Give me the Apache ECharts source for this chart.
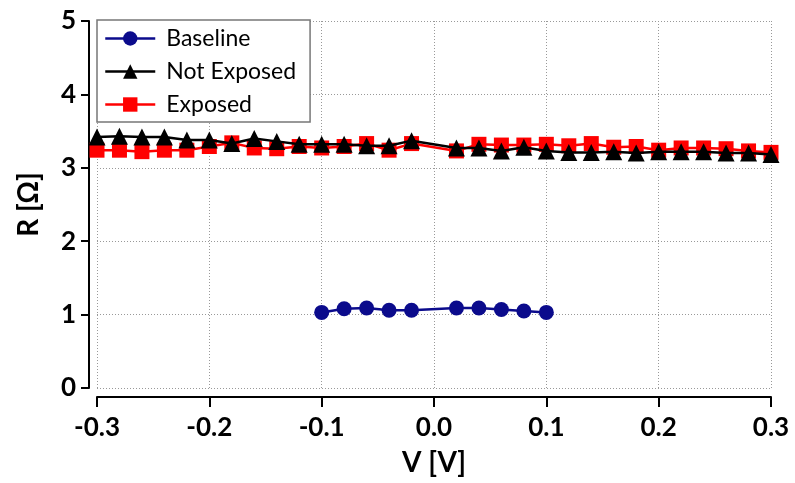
<!DOCTYPE html>
<html>
<head>
<meta charset="utf-8">
<script src="https://cdn.jsdelivr.net/npm/echarts@6/dist/echarts.min.js"></script>
<style>html,body{margin:0;padding:0;background:#fff}#c{width:795px;height:483px}</style>
</head>
<body>
<div id="c"></div>
<script>
var baselineV = [-0.10, -0.08, -0.06, -0.04, -0.02, 0.02, 0.04, 0.06, 0.08, 0.10];
var baselineR = [1.03, 1.08, 1.09, 1.06, 1.06, 1.09, 1.09, 1.07, 1.05, 1.03];

var sweepV = [-0.30, -0.28, -0.26, -0.24, -0.22, -0.20, -0.18, -0.16, -0.14, -0.12, -0.10, -0.08, -0.06, -0.04, -0.02,
              0.02, 0.04, 0.06, 0.08, 0.10, 0.12, 0.14, 0.16, 0.18, 0.20, 0.22, 0.24, 0.26, 0.28, 0.30];
var notExposedR = [3.42, 3.43, 3.42, 3.42, 3.38, 3.38, 3.33, 3.40, 3.36, 3.32, 3.32, 3.32, 3.30, 3.30, 3.37,
                   3.27, 3.27, 3.23, 3.28, 3.23, 3.21, 3.21, 3.22, 3.20, 3.22, 3.22, 3.22, 3.20, 3.20, 3.18];
var exposedR = [3.24, 3.24, 3.22, 3.24, 3.24, 3.29, 3.34, 3.27, 3.26, 3.29, 3.27, 3.29, 3.33, 3.24, 3.33,
                3.23, 3.32, 3.31, 3.31, 3.32, 3.30, 3.33, 3.28, 3.29, 3.24, 3.27, 3.27, 3.26, 3.23, 3.21];

var xTicks = [-0.3, -0.2, -0.1, 0.0, 0.1, 0.2, 0.3];
var yTicks = [0, 1, 2, 3, 4, 5];

function pairs(xs, ys) { return xs.map(function (x, i) { return [x, ys[i]]; }); }

var FONT = 'Lato';
var chart = echarts.init(document.getElementById('c'));
chart.setOption({
  animation: false,
  backgroundColor: '#fff',
  grid: { left: 97, right: 24, top: 21, bottom: 95 },
  xAxis: {
    type: 'value', min: xTicks[0], max: xTicks[xTicks.length - 1], interval: 0.1, offset: 9,
    name: 'V [V]', nameLocation: 'middle', nameGap: 52,
    nameTextStyle: { fontFamily: FONT, fontSize: 28, color: '#000', fontWeight: 'bold' },
    axisLine: { show: true, onZero: false, lineStyle: { color: '#000', width: 2 } },
    axisTick: { show: true, length: 10, lineStyle: { color: '#000', width: 2 } },
    axisLabel: { fontFamily: FONT, fontSize: 26, color: '#000', fontWeight: 'bold', margin: 18,
      formatter: function (v) { return v.toFixed(1); } },
    splitLine: { show: true, lineStyle: { color: '#999', type: [1, 2], width: 1 } }
  },
  yAxis: {
    type: 'value', min: yTicks[0], max: yTicks[yTicks.length - 1], interval: 1, offset: 8,
    name: 'R [Ω]', nameLocation: 'middle', nameGap: 46, nameRotate: 90,
    nameTextStyle: { fontFamily: FONT, fontSize: 28, color: '#000', fontWeight: 'bold' },
    axisLine: { show: true, onZero: false, lineStyle: { color: '#000', width: 2 } },
    axisTick: { show: true, length: 8, lineStyle: { color: '#000', width: 2 } },
    axisLabel: { fontFamily: FONT, fontSize: 26, color: '#000', fontWeight: 'bold', margin: 13 },
    splitLine: { show: true, lineStyle: { color: '#999', type: [1, 2], width: 1 } }
  },
  legend: {
    orient: 'vertical', left: 97, top: 20,
    data: ['Baseline', 'Not Exposed', 'Exposed'],
    backgroundColor: '#fff', borderColor: '#777', borderWidth: 1.5,
    padding: [7, 14, 6, 7], itemWidth: 50, itemHeight: 18, itemGap: 10,
    lineStyle: { width: 2.5 },
    textStyle: { fontFamily: FONT, fontSize: 23, color: '#000', padding: [0, 0, 0, 6] }
  },
  series: [
    { name: 'Baseline', type: 'line', data: pairs(baselineV, baselineR), z: 3,
      symbol: 'circle', symbolSize: 15,
      lineStyle: { color: '#0b0b8c', width: 2.5 }, itemStyle: { color: '#0b0b8c' } },
    { name: 'Exposed', type: 'line', data: pairs(sweepV, exposedR), z: 3,
      symbol: 'rect', symbolSize: 15,
      lineStyle: { color: '#ff0000', width: 2.5 }, itemStyle: { color: '#ff0000' } },
    { name: 'Not Exposed', type: 'line', data: pairs(sweepV, notExposedR), z: 4,
      symbol: 'triangle', symbolSize: 17,
      lineStyle: { color: '#000', width: 2.5 }, itemStyle: { color: '#000' } }
  ]
});
</script>
</body>
</html>
